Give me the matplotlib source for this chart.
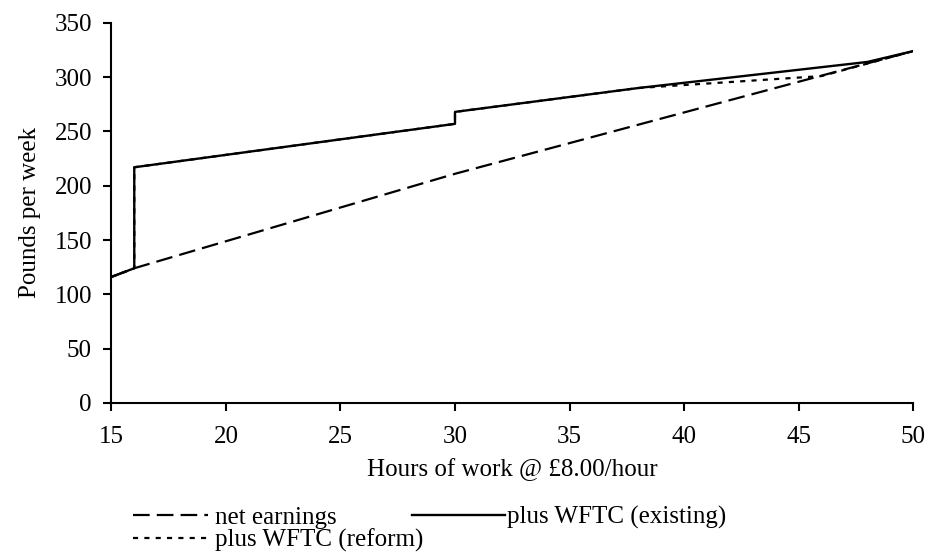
import matplotlib
matplotlib.use("Agg")
import matplotlib.pyplot as plt

# ── Données ──────────────────────────────────────────────
net_hours = [15, 16, 30, 50]
net_pay = [116, 124, 211, 324]

existing_hours = [15, 16, 16, 30, 30, 38, 48, 50]
existing_pay = [116, 124, 217, 257, 268, 290, 314, 324]

reform_hours = [15, 16, 16, 30, 30, 38, 46, 50]
reform_pay = [116, 124, 217, 257, 268, 290, 301, 324]

x_ticks = [15, 20, 25, 30, 35, 40, 45, 50]
y_ticks = [0, 50, 100, 150, 200, 250, 300, 350]

plt.rcParams["font.family"] = ["Liberation Serif", "DejaVu Serif"]
FS = 18
DASHED = (0, (7.5, 3.2))
DOTTED = (0, (2.3, 2.8))

fig = plt.figure(figsize=(9.28, 5.58), dpi=100)
ax = fig.add_axes([0.12, 0.278, 0.864, 0.681])

l_reform, = ax.plot(reform_hours, reform_pay, color="black", linewidth=1.6,
                    linestyle=DOTTED, label="plus WFTC (reform)")
l_exist, = ax.plot(existing_hours, existing_pay, color="black", linewidth=1.7,
                   label="plus WFTC (existing)")
l_net, = ax.plot(net_hours, net_pay, color="black", linewidth=1.6,
                 linestyle=DASHED, label="net earnings")

ax.set_xlim(15, 50)
ax.set_ylim(0, 350)
ax.set_xticks(x_ticks)
ax.set_yticks(y_ticks)
ax.tick_params(labelsize=FS, direction="out", length=6, width=1.5, colors="black")
ax.tick_params(axis="x", pad=11)
ax.tick_params(axis="y", pad=8)
for s in ("top", "right"):
    ax.spines[s].set_visible(False)
for s in ("left", "bottom"):
    ax.spines[s].set_linewidth(1.5)

ax.set_xlabel("Hours of work @ £8.00/hour", fontsize=FS, labelpad=7)
ax.set_ylabel("Pounds per week", fontsize=FS, labelpad=10)

fig.legend([l_net, l_reform], ["net earnings", "plus WFTC (reform)"],
           frameon=False, fontsize=FS, loc="upper left",
           bbox_to_anchor=(0.143, 0.093), handlelength=3.0,
           handletextpad=0.3, labelspacing=0.0, borderpad=0,
           borderaxespad=0)
fig.legend([l_exist], ["plus WFTC (existing)"],
           frameon=False, fontsize=FS, loc="upper left",
           bbox_to_anchor=(0.444, 0.093), handlelength=3.7,
           handletextpad=0.1, borderpad=0, borderaxespad=0)

fig.savefig("out.png", dpi=100, facecolor="white")
